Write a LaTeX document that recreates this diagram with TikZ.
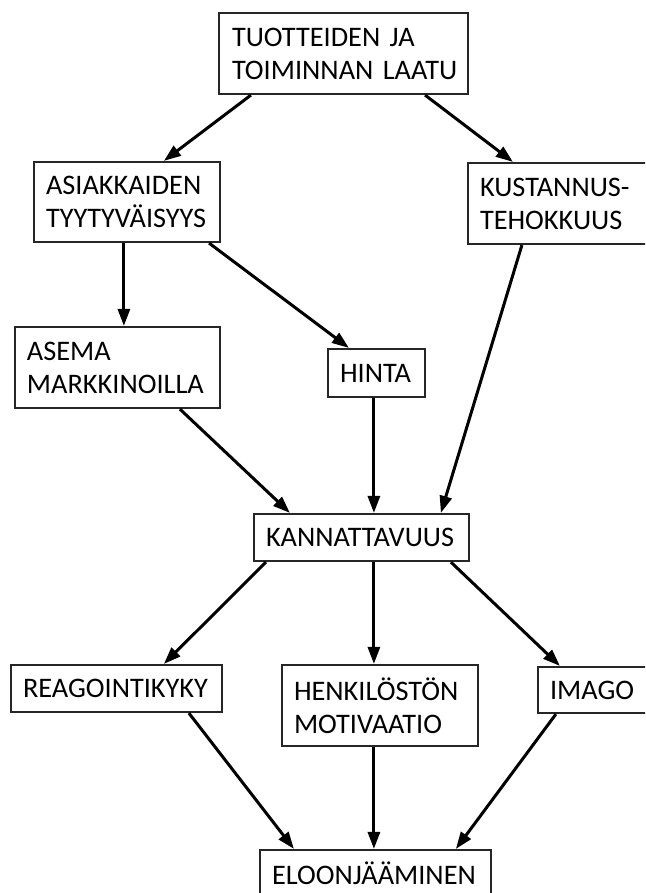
\documentclass[tikz,border=0pt]{standalone}
\usepackage{fontspec}
\setmainfont{Carlito}
\usetikzlibrary{arrows.meta,calc}
\begin{document}
\begin{tikzpicture}[x=1pt,y=-1pt,
  box/.style={draw=black!85, line width=2.2pt, inner sep=0pt, align=left,
    font=\fontsize{28.3}{33}\selectfont},
  arr/.style={line width=3pt, -{Triangle[length=17pt,width=12pt]}}]
\clip (0,0) rectangle (645,893);
\fill[white] (0,0) rectangle (645,893);
% nodes
\node[box, minimum width=249pt, minimum height=81pt, text width=223pt] (top) at (343.5,53.5) {TUOTTEIDEN~JA\\TOIMINNAN~LAATU};
\node[box, minimum width=186pt, minimum height=80pt, text width=162pt] (asi) at (127,202) {ASIAKKAIDEN\\TYYTYVÄISYYS};
\node[box, minimum width=190pt, minimum height=81pt, text width=166pt] (kus) at (563,203.5) {KUSTANNUS-\\TEHOKKUUS};
\node[box, minimum width=205pt, minimum height=81pt, text width=181pt] (asema) at (117.5,367.5) {ASEMA\\MARKKINOILLA};
\node[box, minimum width=97pt, minimum height=48pt, text width=73pt] (hinta) at (376.5,373) {HINTA};
\node[box, minimum width=215pt, minimum height=47pt, text width=191pt] (kann) at (361.5,537.5) {KANNATTAVUUS};
\node[box, minimum width=211pt, minimum height=47pt, text width=187pt] (reag) at (116.5,688.5) {REAGOINTIKYKY};
\node[box, minimum width=196pt, minimum height=81pt, text width=172pt] (henk) at (380,705.5) {HENKILÖSTÖN\\MOTIVAATIO};
\node[box, minimum width=120pt, minimum height=46pt, text width=96pt] (imago) at (598,690) {IMAGO};
\node[box, minimum width=231pt, minimum height=47pt, text width=207pt] (eloon) at (375.5,873.5) {ELOONJÄÄMINEN};
% connectors
\draw[arr] ($(top.south west)+(33,0)$) -- ($(asi.north west)+(131,0)$);
\draw[arr] ($(top.south east)+(-44,0)$) -- ($(kus.north west)+(46,0)$);
\draw[arr] ($(asi.south west)+(91,0)$) -- ($(asema.north west)+(110,0)$);
\draw[arr] ($(asi.south east)+(-12,0)$) -- ($(hinta.north west)+(22,0)$);
\draw[arr] ($(kus.south west)+(55,0)$) -- ($(kann.north west)+(188,0)$);
\draw[arr] ($(asema.south west)+(166,0)$) -- ($(kann.north west)+(37,0)$);
\draw[arr] ($(hinta.south west)+(47,0)$) -- ($(kann.north west)+(121,0)$);
\draw[arr] ($(kann.south west)+(13,0)$) -- ($(reag.north west)+(154,0)$);
\draw[arr] ($(kann.south west)+(121,0)$) -- ($(henk.north west)+(93,0)$);
\draw[arr] ($(kann.south west)+(198,0)$) -- ($(imago.north west)+(23,0)$);
\draw[arr] ($(reag.south west)+(179,0)$) -- ($(eloon.north west)+(35,0)$);
\draw[arr] ($(henk.south west)+(93,0)$) -- ($(eloon.north west)+(115,0)$);
\draw[arr] ($(imago.south west)+(19,0)$) -- ($(eloon.north west)+(197,0)$);
\end{tikzpicture}
\end{document}
